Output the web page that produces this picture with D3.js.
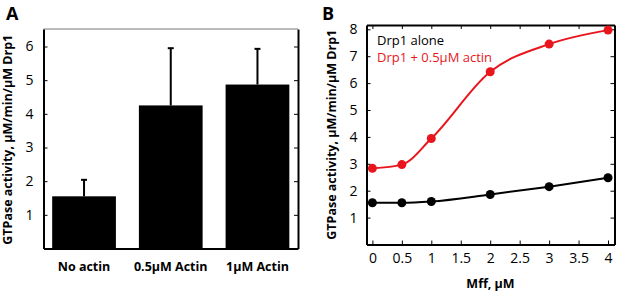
<!DOCTYPE html>
<html><head><meta charset="utf-8">
<script src="https://cdn.jsdelivr.net/npm/d3@7"></script>
<style>body{margin:0;background:#fff}svg{display:block}text{font-family:"Open Sans",sans-serif}</style>
</head><body><svg id="c" width="617" height="292"></svg>
<script>
// Panel A data
const catsA = ["No actin", "0.5\u03BCM Actin", "1\u03BCM Actin"];
const valsA = [1.55, 4.25, 4.87];
const errTopA = [2.04, 5.95, 5.93];
const ticksA = [1, 2, 3, 4, 5, 6];
// Panel B data
const mff = [0, 0.5, 1, 2, 3, 4];
const drp1Alone = [1.55, 1.55, 1.60, 1.86, 2.15, 2.48];
const drp1Actin = [2.83, 2.97, 3.94, 6.42, 7.45, 7.97];
const ticksBx = [0, 0.5, 1, 1.5, 2, 2.5, 3, 3.5, 4];
const ticksBy = [1, 2, 3, 4, 5, 6, 7, 8];
const red = "#e8161c";

const svg = d3.select("#c");

// ---------- Panel A ----------
const A = {l: 43.5, r: 298, t: 29, b: 248.5};
const xA = d3.scaleBand().domain(catsA).range([A.l, A.r]).paddingInner(0.265).paddingOuter(0.1);
const yA = d3.scaleLinear().domain([0, 6.52]).range([A.b, A.t]);
const gA = svg.append("g");
gA.append("line").attr("x1", A.l).attr("x2", A.r).attr("y1", A.t).attr("y2", A.t).attr("stroke", "#777").attr("stroke-width", 1);
gA.selectAll("rect.bar").data(valsA).join("rect").attr("class", "bar")
  .attr("x", (d, i) => xA(catsA[i])).attr("width", xA.bandwidth())
  .attr("y", d => yA(d)).attr("height", d => yA(0) - yA(d)).attr("fill", "#000");
gA.selectAll("line.err").data(valsA).join("line").attr("class", "err")
  .attr("x1", (d, i) => xA(catsA[i]) + xA.bandwidth() / 2).attr("x2", (d, i) => xA(catsA[i]) + xA.bandwidth() / 2)
  .attr("y1", d => yA(d)).attr("y2", (d, i) => yA(errTopA[i])).attr("stroke", "#000").attr("stroke-width", 2);
gA.selectAll("line.cap").data(errTopA).join("line").attr("class", "cap")
  .attr("x1", (d, i) => xA(catsA[i]) + xA.bandwidth() / 2 - 3).attr("x2", (d, i) => xA(catsA[i]) + xA.bandwidth() / 2 + 3)
  .attr("y1", d => yA(d)).attr("y2", d => yA(d)).attr("stroke", "#000").attr("stroke-width", 2);
// axes
const axLA = gA.append("g").attr("transform", `translate(${A.l},0)`)
  .call(d3.axisLeft(yA).tickValues(ticksA).tickSizeInner(-4).tickSizeOuter(0).tickPadding(10).tickFormat(d3.format("d")));
const axRA = gA.append("g").attr("transform", `translate(${A.r},0)`)
  .call(d3.axisRight(yA).tickValues(ticksA).tickSizeInner(-4).tickSizeOuter(0).tickFormat(""));
const axBA = gA.append("g").attr("transform", `translate(0,${A.b})`)
  .call(d3.axisBottom(xA).tickSize(0).tickPadding(14));
[axLA, axRA, axBA].forEach(a => { a.select(".domain").attr("stroke", "#000").attr("stroke-width", 2); a.selectAll(".tick line").attr("stroke", "#000"); });
axLA.selectAll("text").attr("font-size", 14).attr("fill", "#000");
axBA.selectAll("text").attr("font-size", 12.5).attr("font-weight", "bold").attr("fill", "#000");
gA.append("text").attr("transform", `translate(12,${(A.t + A.b) / 2 + 1}) rotate(-90)`).attr("text-anchor", "middle")
  .attr("font-size", 12.5).attr("font-weight", "bold").text("GTPase activity, \u03BCM/min/\u03BCM Drp1");
gA.append("text").attr("x", 6).attr("y", 20).attr("font-size", 18).attr("font-weight", "bold").text("A");

// ---------- Panel B ----------
const B = {l: 366.5, r: 614.5, t: 25, b: 244.5};
const xB = d3.scaleLinear().domain([-0.1, 4.11]).range([B.l, B.r]);
const yB = d3.scaleLinear().domain([0, 8.16]).range([B.b, B.t]);
const gB = svg.append("g");
const axLB = gB.append("g").attr("transform", `translate(${B.l},0)`)
  .call(d3.axisLeft(yB).tickValues(ticksBy).tickSizeInner(-4).tickSizeOuter(0).tickPadding(9).tickFormat(d3.format("d")));
const axRB = gB.append("g").attr("transform", `translate(${B.r},0)`)
  .call(d3.axisRight(yB).tickValues(ticksBy).tickSizeInner(-4).tickSizeOuter(0).tickFormat(""));
const axBB = gB.append("g").attr("transform", `translate(0,${B.b})`)
  .call(d3.axisBottom(xB).tickValues(ticksBx).tickSizeInner(-4).tickSizeOuter(0).tickPadding(9).tickFormat(d3.format("")));
const axTB = gB.append("g").attr("transform", `translate(0,${B.t})`)
  .call(d3.axisTop(xB).tickValues(ticksBx).tickSizeInner(-4).tickSizeOuter(0).tickFormat(""));
[axLB, axRB, axBB, axTB].forEach(a => { a.select(".domain").attr("stroke", "#000").attr("stroke-width", 2); a.selectAll(".tick line").attr("stroke", "#000"); });
axLB.selectAll("text").attr("font-size", 14).attr("fill", "#000");
axBB.selectAll("text").attr("font-size", 14).attr("fill", "#000");
const line = d3.line().x((d, i) => xB(mff[i])).y(d => yB(d)).curve(d3.curveMonotoneX);
gB.append("path").datum(drp1Alone).attr("d", line).attr("fill", "none").attr("stroke", "#000").attr("stroke-width", 2);
gB.append("path").datum(drp1Actin).attr("d", line).attr("fill", "none").attr("stroke", red).attr("stroke-width", 2);
gB.selectAll("circle.k").data(drp1Alone).join("circle").attr("class", "k")
  .attr("cx", (d, i) => xB(mff[i])).attr("cy", d => yB(d)).attr("r", 4.5).attr("fill", "#000");
gB.selectAll("circle.r").data(drp1Actin).join("circle").attr("class", "r")
  .attr("cx", (d, i) => xB(mff[i])).attr("cy", d => yB(d)).attr("r", 4.5).attr("fill", red);
gB.append("text").attr("x", 377).attr("y", 45).attr("font-size", 13).attr("fill", "#000").text("Drp1 alone");
gB.append("text").attr("x", 377).attr("y", 62).attr("font-size", 13).attr("fill", red).text("Drp1 + 0.5\u03BCM actin");
gB.append("text").attr("x", (B.l + B.r) / 2).attr("y", 288).attr("text-anchor", "middle").attr("font-size", 12.5).attr("font-weight", "bold").text("Mff, \u03BCM");
gB.append("text").attr("transform", `translate(336,${(B.t + B.b) / 2}) rotate(-90)`).attr("text-anchor", "middle")
  .attr("font-size", 12.5).attr("font-weight", "bold").text("GTPase activity, \u03BCM/min/\u03BCM Drp1");
gB.append("text").attr("x", 322).attr("y", 20).attr("font-size", 18).attr("font-weight", "bold").text("B");
</script></body></html>
